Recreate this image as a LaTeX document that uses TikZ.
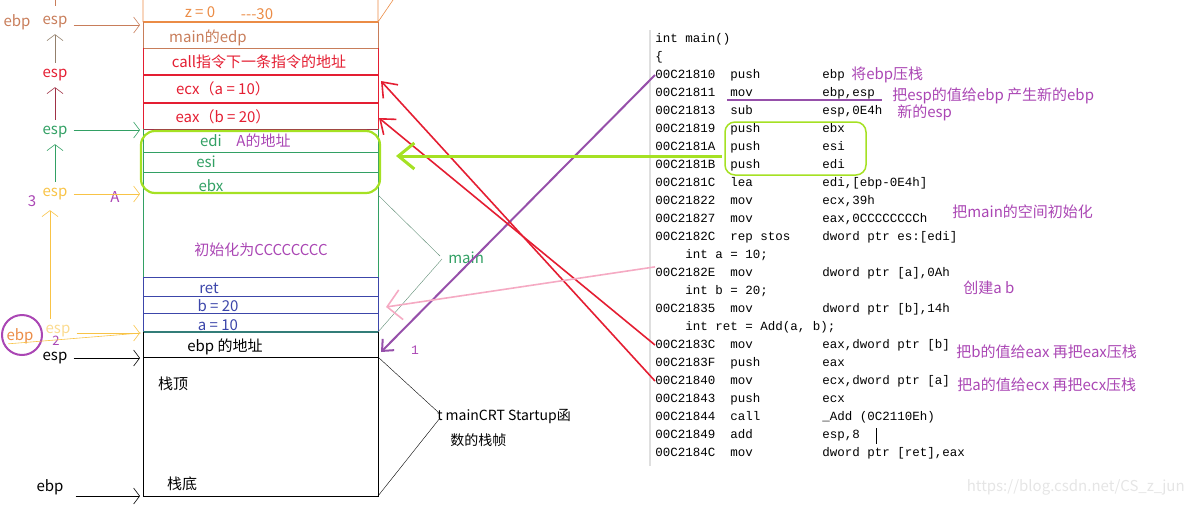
\documentclass[tikz,border=0pt]{standalone}
\usepackage{fontspec}
\setmainfont{Noto Sans CJK SC}
\newfontfamily\codefont{Liberation Mono}
\usetikzlibrary{arrows.meta,positioning}

\definecolor{stkorange}{RGB}{235,140,70}
\definecolor{stkbrown}{RGB}{200,125,90}
\definecolor{stkred}{RGB}{228,30,50}
\definecolor{darkred}{RGB}{160,50,70}
\definecolor{stkgreen}{RGB}{50,160,100}
\definecolor{stkteal}{RGB}{50,125,120}
\definecolor{stkblue}{RGB}{60,70,170}
\definecolor{limegreen}{RGB}{165,225,35}
\definecolor{textpurple}{RGB}{170,70,180}
\definecolor{linepurple}{RGB}{150,80,170}
\definecolor{stkyellow}{RGB}{248,195,70}
\definecolor{arrowpink}{RGB}{245,170,195}

\newcommand{\asmline}[3]{\makebox[75pt][l]{#1}\makebox[92pt][l]{#2}#3}
\newcommand{\srcline}[1]{\hspace*{30pt}#1}

\begin{document}
\begin{tikzpicture}[x=1pt, y=-1pt,
        every node/.style={inner sep=0pt, font=\fontsize{15}{17}\selectfont},
        every path/.style={line width=0.6pt},
        >={Straight Barb[length=6pt, width=16pt]},
        code/.style={anchor=west, font=\codefont\fontsize{12.5}{14}\selectfont},
        note/.style={anchor=west, text=textpurple},
        hint/.style={->, shorten <=6pt, shorten >=1pt}
    ]
    \useasboundingbox (0,0) rectangle (1189,504);

    % Stack frame
    \draw[stkorange] (143,0) -- (143,22) (378,0) -- (378,22) -- (393,0);
    \draw[stkorange, line width=1.3pt] (143,22) -- (378,22);
    \draw[stkbrown] (143,22) -- (143,48) -- (378,48) -- (378,22);
    \draw[stkred] (143,48) -- (143,129) (378,48) -- (378,129);
    \draw[stkred, line width=1.3pt] (143,75) -- (378,75) (143,103) -- (378,103);
    \draw[darkred] (143,129) -- (378,129);
    \draw[stkgreen] (143,129) -- (143,277) (378,129) -- (378,277)
        (143,152) -- (378,152) (143,172) -- (378,172);
    \draw[stkblue] (143,277) -- (378,277) (143,277) -- (143,332) (378,277) -- (378,332)
        (143,296) -- (378,296) (143,313) -- (378,313);
    \draw[stkteal, line width=1.3pt] (143,332) -- (378,332);
    \draw (143,332) -- (143,496) -- (378,496) -- (378,332) (143,357) -- (378,357);
    \draw[limegreen, line width=2.2pt, rounded corners=14pt] (141,131) rectangle (380,193);

    % Stack cells
    \node (z)[text=stkorange] at (200,12) {z = 0};
    \node (z30)[text=stkorange] at (257,14) {-{}-{}-30};
    \node (edp)[text=stkbrown] at (208,38) {main的edp};
    \node (callNext)[text=stkred] at (259,62) {call指令下一条指令的地址};
    \node (ecx)[text=stkred] at (223,89) {ecx（a = 10）};
    \node (eax)[text=stkred] at (223,117) {eax（b = 20）};
    \node (edi)[text=stkgreen] at (211,141) {edi};
    \node (ediAddr)[right=14pt of edi, text=textpurple] {A的地址};
    \node (esi)[text=stkgreen] at (206,162) {esi};
    \node (ebx)[text=stkgreen] at (211,186) {ebx};
    \node (init)[text=textpurple] at (261,250) {初始化为CCCCCCCC};
    \node (retv)[text=stkblue] at (209,288) {ret};
    \node (bv)[text=stkblue] at (218,306) {b = 20};
    \node (av)[text=stkblue] at (218,325) {a = 10};
    \node (ebpAddr) at (225,347) {ebp 的地址};
    \node (top) at (173,384) {栈顶};
    \node (bottom) at (182,484) {栈底};

    % Frame braces
    \draw[gray!60!stkgreen, line width=0.4pt] (378,195) -- (440,256) (442,259) -- (378,332);
    \node (mainLbl)[anchor=west, text=stkgreen] at (448,258) {main};
    \draw[line width=0.4pt] (378,357) -- (438,412) (440,418) -- (378,496);
    \node (crt)[anchor=west, font=\fontsize{14}{16}\selectfont] at (437,416) {t mainCRT Startup函};
    \node (crt2)[anchor=west, font=\fontsize{14}{16}\selectfont] at (450,440) {数的栈帧};

    % Registers
    \node (ebpTop)[text=stkbrown] at (17,22) {ebp};
    \node (espTop)[text=stkbrown] at (55,22) {esp};
    \node (espRed)[text=stkred] at (55,75) {esp};
    \node (espGreen)[text=stkgreen] at (55,132) {esp};
    \node (espA)[text=stkyellow] at (55,194) {esp};
    \node (three)[text=textpurple] at (32,201) {3};
    \node (labA)[text=textpurple] at (115,197) {A};
    \node (ebpTwo)[text=stkorange] at (20,336) {ebp};
    \node (espTwo)[text=stkyellow!60] at (58,331) {esp};
    \node (two)[text=textpurple, font=\fontsize{13}{15}\selectfont] at (56,341) {2};
    \draw[textpurple, line width=2pt] (22,335) circle (20);
    \node (espBlk) at (55,358) {esp};
    \node (ebpBlk) at (50,487) {ebp};

    \coordinate (topL) at (141,25);
    \coordinate (ediL) at (141,130);
    \coordinate (initL) at (141,194);
    \coordinate (aL) at (141,333);
    \coordinate (ebpL) at (141,358);
    \coordinate (baseL) at (141,496);
    \draw[stkbrown, hint] (espTop.east |- topL) -- (topL);
    \draw[stkgreen, hint] (espGreen.east |- ediL) -- (ediL);
    \draw[stkyellow, hint] (espA.east |- initL) -- (initL);
    \draw[stkyellow, hint] (espTwo.east |- aL) -- (aL);
    \draw[stkyellow, shorten <=2pt] (ebpTwo.south west) -- (aL);
    \draw[hint] (espBlk.east |- ebpL) -- (ebpL);
    \draw[hint, shorten <=12pt] (ebpBlk.east |- baseL) -- (baseL);
    \draw[gray!70!brown, ->, shorten <=6pt, shorten >=6pt] (espRed) -- (espTop);
    \draw[darkred, ->, shorten <=6pt, shorten >=6pt] (espGreen) -- (espRed);
    \draw[stkgreen, ->, shorten <=6pt, shorten >=6pt] (espA) -- (espGreen);
    \draw[stkyellow, ->, shorten <=6pt, shorten >=10pt] ([xshift=-8pt]espTwo.north) -- ([xshift=-5pt]espA.south);
    \draw[stkbrown] (55,0) -- (55,6);

    % Code
    \draw[gray!25, line width=1.5pt] (650,30) -- (650,466);
    \foreach \txt [count=\i] in {
        {int main()}, {\{},
        {\asmline{00C21810}{push}{ebp}},
        {\asmline{00C21811}{mov}{ebp,esp}},
        {\asmline{00C21813}{sub}{esp,0E4h}},
        {\asmline{00C21819}{push}{ebx}},
        {\asmline{00C2181A}{push}{esi}},
        {\asmline{00C2181B}{push}{edi}},
        {\asmline{00C2181C}{lea}{edi,[ebp-0E4h]}},
        {\asmline{00C21822}{mov}{ecx,39h}},
        {\asmline{00C21827}{mov}{eax,0CCCCCCCCh}},
        {\asmline{00C2182C}{rep stos}{dword ptr es:[edi]}},
        {\srcline{int a = 10;}},
        {\asmline{00C2182E}{mov}{dword ptr [a],0Ah}},
        {\srcline{int b = 20;}},
        {\asmline{00C21835}{mov}{dword ptr [b],14h}},
        {\srcline{int ret = Add(a, b);}},
        {\asmline{00C2183C}{mov}{eax,dword ptr [b]}},
        {\asmline{00C2183F}{push}{eax}},
        {\asmline{00C21840}{mov}{ecx,dword ptr [a]}},
        {\asmline{00C21843}{push}{ecx}},
        {\asmline{00C21844}{call}{\_Add (0C2110Eh)}},
        {\asmline{00C21849}{add}{esp,8}},
        {\asmline{00C2184C}{mov}{dword ptr [ret],eax}}}
        \node (l\i)[code] at (655,{39+18*(\i-1)}) {\txt};
    \draw (876,428) -- (876,444);

    % Notes
    \node (n1)[note] at (851,75) {将ebp压栈};
    \node (n2)[note] at (892,96) {把esp的值给ebp 产生新的ebp};
    \node (n3)[note] at (897,113) {新的esp};
    \node (n4)[note] at (952,212) {把main的空间初始化};
    \node (n5)[note] at (963,288) {创建a b};
    \node (n6)[note] at (956,352) {把b的值给eax 再把eax压栈};
    \node (n7)[note] at (957,385) {把a的值给ecx 再把ecx压栈};
    \node (wm)[anchor=east, text=gray!20] at (1185,487) {https://blog.csdn.net/CS\_z\_jun};

    % Edges
    \coordinate (ebpR) at (381,352);
    \coordinate (ecxR) at (381,81);
    \coordinate (eaxR) at (379,118);
    \coordinate (bR) at (386,307);
    \coordinate (ediR) at (396,156);
    \coordinate (gStart) at (722,156);
    \draw[linepurple, line width=2pt, -{Straight Barb[length=9pt, width=16pt]}] (l3.west) -- (ebpR);
    \node (one)[text=textpurple, font=\codefont\fontsize{13}{15}\selectfont] at (415,350) {1};
    \draw[stkred, line width=1.6pt, -{Straight Barb[length=13pt, width=20pt]}] (l20.west) -- (ecxR);
    \draw[stkred, line width=1.6pt, -{Straight Barb[length=13pt, width=20pt]}] (l18.west) -- (eaxR);
    \draw[arrowpink, line width=1.6pt, -{Straight Barb[length=14pt, width=30pt]}] (l14.north west) -- (bR);
    \draw[limegreen, line width=3pt, -{Straight Barb[length=16pt, width=26pt]}] (gStart) -- (ediR);
    \draw[linepurple, line width=2pt] (727,100) -- (882,100);
    \draw[limegreen, line width=1.5pt, rounded corners=10pt] (725,122) rectangle (866,175);

\end{tikzpicture}
\end{document}
